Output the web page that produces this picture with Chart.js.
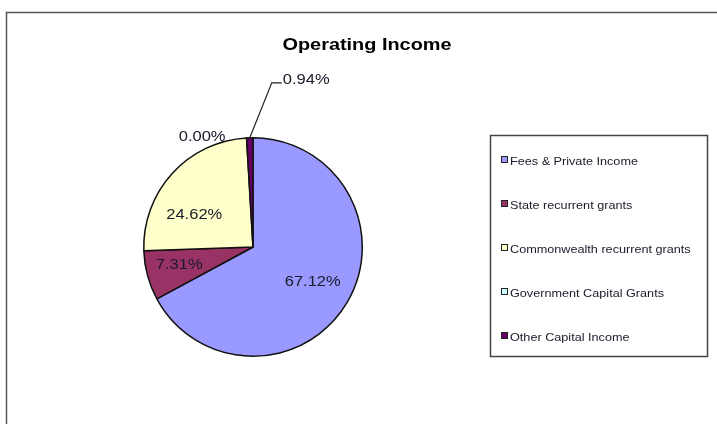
<!DOCTYPE html>
<html>
<head>
<meta charset="utf-8">
<title>Operating Income</title>
<script src="https://cdn.jsdelivr.net/npm/chart.js@4"></script>
<style>
  html, body { margin: 0; padding: 0; background: #fff; }
  #wrap { width: 717px; height: 424px; }
</style>
</head>
<body>
<div id="wrap"><canvas id="pie" width="717" height="424"></canvas></div>
<script>
// --- chart data ---
const chartTitle = 'Operating Income';
const categories = [
    'Fees & Private Income',
    'State recurrent grants',
    'Commonwealth recurrent grants',
    'Government Capital Grants',
    'Other Capital Income'
];
const shares = [67.12, 7.31, 24.62, 0.00, 0.94];
const sliceColors = ['#9999FF', '#993366', '#FFFFCC', '#CCFFFF', '#660066'];

// small shifts so the inner labels sit where Excel put them
const labelNudge = [[-5, -5], [-1, -3], [-3, 18], [0, 0], [0, 0]];

// text looks a bit wide in the original, so stretch it sideways a little
const drawText = (ctx, text, x, y, font, align, stretch) => {
    ctx.save();
    ctx.font = font;
    ctx.textAlign = align;
    ctx.textBaseline = 'alphabetic';
    ctx.translate(x, y);
    ctx.scale(stretch, 1);
    ctx.fillText(text, 0, 0);
    ctx.restore();
};

// --- frame, title, legend and slice labels ---
const decorPlugin = {
    id: 'decor',
    beforeDraw(chart) {
        const ctx = chart.ctx;
        ctx.save();
        ctx.fillStyle = '#fff';
        ctx.fillRect(0, 0, chart.width, chart.height);
        // outer chart frame (runs off right and bottom)
        ctx.strokeStyle = '#555';
        ctx.lineWidth = 1.5;
        ctx.beginPath();
        ctx.moveTo(6.5, chart.height + 5);
        ctx.lineTo(6.5, 12.5);
        ctx.lineTo(chart.width + 5, 12.5);
        ctx.stroke();
        ctx.restore();
    },
    afterDatasetsDraw(chart) {
        const ctx = chart.ctx;
        ctx.fillStyle = '#000';
        drawText(ctx, chartTitle, 367, 50, 'bold 17px "Liberation Sans", Arial, sans-serif', 'center', 1.17);

        // legend box
        ctx.save();
        ctx.strokeStyle = '#444';
        ctx.lineWidth = 1.5;
        ctx.strokeRect(490.5, 135.5, 217, 221);
        ctx.restore();
        categories.forEach((name, i) => {
            const base = 164.5 + i * 44;
            ctx.save();
            ctx.fillStyle = sliceColors[i];
            ctx.fillRect(501.5, base - 8, 6, 6);
            ctx.strokeStyle = '#222';
            ctx.lineWidth = 1;
            ctx.strokeRect(501.5, base - 8, 6, 6);
            ctx.restore();
            ctx.fillStyle = '#1a1a2a';
            drawText(ctx, name, 510, base, '11px "Liberation Sans", Arial, sans-serif', 'left', 1.15);
        });

        // slice labels
        const meta = chart.getDatasetMeta(0);
        const labelFont = '14px "Liberation Sans", Arial, sans-serif';
        meta.data.forEach((arc, i) => {
            const p = arc.getProps(['x', 'y', 'startAngle', 'endAngle', 'outerRadius'], true);
            const mid = (p.startAngle + p.endAngle) / 2;
            const rimX = p.x + Math.cos(mid) * p.outerRadius;
            const rimY = p.y + Math.sin(mid) * p.outerRadius;
            const text = shares[i].toFixed(2) + '%';
            ctx.fillStyle = '#1a1a2a';
            if (shares[i] === 0) {
                drawText(ctx, text, rimX - 21, rimY + 3, labelFont, 'right', 1.18);
            } else if (shares[i] < 2) {
                const kx = rimX + 22, ky = rimY - 55;
                ctx.save();
                ctx.strokeStyle = '#222';
                ctx.lineWidth = 1.2;
                ctx.beginPath();
                ctx.moveTo(rimX, rimY);
                ctx.lineTo(kx, ky);
                ctx.lineTo(kx + 10, ky);
                ctx.stroke();
                ctx.restore();
                drawText(ctx, text, kx + 11, ky + 1, labelFont, 'left', 1.18);
            } else {
                const r = p.outerRadius * 0.69;
                const tx = p.x + Math.cos(mid) * r + labelNudge[i][0];
                const ty = p.y + Math.sin(mid) * r + labelNudge[i][1];
                drawText(ctx, text, tx, ty + 5, labelFont, 'center', 1.18);
            }
        });
    }
};

new Chart(document.getElementById('pie').getContext('2d'), {
    type: 'pie',
    data: {
        labels: categories,
        datasets: [{
            data: shares,
            backgroundColor: sliceColors,
            borderColor: '#111',
            borderWidth: 1.5
        }]
    },
    options: {
        responsive: false,
        animation: false,
        devicePixelRatio: 1,
        events: [],
        layout: {
            padding: { left: 143, right: 354, top: 137, bottom: 67 }
        },
        plugins: {
            legend: { display: false },
            title: { display: false },
            tooltip: { enabled: false }
        }
    },
    plugins: [decorPlugin]
});
</script>
</body>
</html>
